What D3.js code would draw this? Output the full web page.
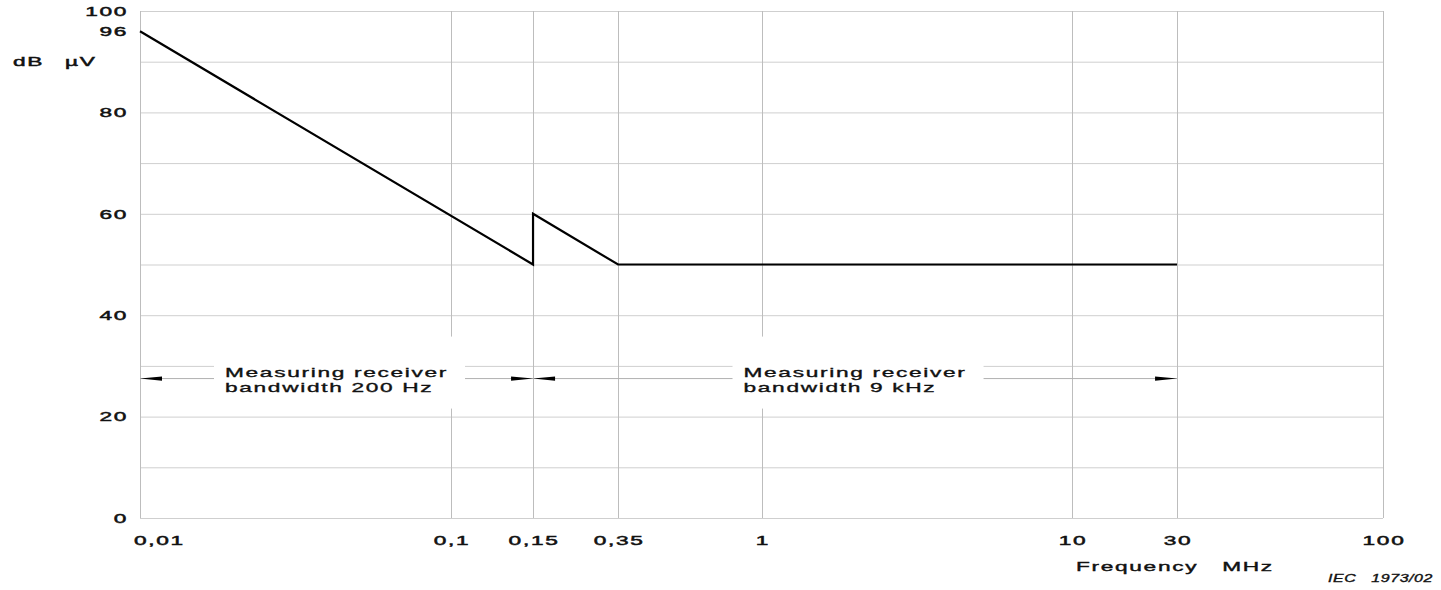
<!DOCTYPE html>
<html>
<head>
<meta charset="utf-8">
<script src="https://cdn.jsdelivr.net/npm/d3@7"></script>
<style>
  body { margin: 0; background: #fff; }
  svg { display: block; font-family: "Liberation Sans", Arial, Helvetica, sans-serif; }
  text { white-space: pre; }
</style>
</head>
<body>
<svg id="chart" width="1441" height="590"></svg>
<script>
// Frequency axis, MHz
const freqTicks = [0.01, 0.1, 0.15, 0.35, 1, 10, 30, 100];
const freqTickLabels = ["0,01", "0,1", "0,15", "0,35", "1", "10", "30", "100"];

// Level axis, dB µV
const levelTicks = [0, 20, 40, 60, 80, 96, 100];
const levelTickLabels = ["0", "20", "40", "60", "80", "96", "100"];
const levelGrid = [0, 10, 20, 30, 40, 50, 60, 70, 80, 90, 100];

// Limit line (frequency MHz, level dB µV)
const limitFreq = [0.01, 0.15, 0.15, 0.35, 30];
const limitLevel = [96, 50, 60, 50, 50];

// Measuring receiver bandwidth ranges
const bandFrom = [0.01, 0.15];
const bandTo = [0.15, 30];
const bandLine1 = ["Measuring receiver", "Measuring receiver"];
const bandLine2 = ["bandwidth 200 Hz", "bandwidth 9 kHz"];
const bandArrowLevel = 27.5;

// ---- layout ----
const plot = { left: 140, right: 1383, top: 11, bottom: 518 };
const W = plot.right - plot.left;
// Drafting positions of the frequency grid lines, as fractions of the plot width
const freqGridPos = [0, 0.2502, 0.3162, 0.3846, 0.5004, 0.7498, 0.8343, 1];

const svg = d3.select("#chart");

// Piecewise logarithmic frequency scale
const xLog = d3.scaleLinear()
  .domain(freqTicks.map(Math.log10))
  .range(freqGridPos.map(f => plot.left + f * W));
const x = f => xLog(Math.log10(f));

const y = d3.scaleLinear().domain([0, 100]).range([plot.bottom, plot.top]);

const TXT = { size: 13.5, sx: 1.68, ls: 1.0, fill: "#111", stroke: 0.5 };

// Text drawn with the wide lettering of the drawing
function label(parent, str, px, py, opts = {}) {
  const o = Object.assign({}, TXT, opts);
  const g = parent.append("g")
    .attr("transform", `translate(${px},${py}) scale(${o.sx},1)`);
  const t = g.append("text")
    .attr("text-anchor", o.anchor || "start")
    .attr("dy", o.dy || 0)
    .style("font-size", o.size + "px")
    .style("letter-spacing", o.ls + "px")
    .style("font-style", o.italic ? "italic" : "normal")
    .attr("fill", o.fill)
    .attr("stroke", o.fill)
    .attr("stroke-width", o.stroke)
    .text(str);
  return t;
}

// ---- grid ----
const grid = svg.append("g");
grid.selectAll("line.h").data(levelGrid).join("line")
  .attr("class", "h")
  .attr("x1", plot.left).attr("x2", plot.right)
  .attr("y1", d => y(d) + 0.5).attr("y2", d => y(d) + 0.5)
  .attr("stroke", "#cfcfcf").attr("stroke-width", 1);

grid.selectAll("line.v").data(freqTicks).join("line")
  .attr("class", "v")
  .attr("x1", d => Math.round(x(d)) + 0.5).attr("x2", d => Math.round(x(d)) + 0.5)
  .attr("y1", plot.top).attr("y2", plot.bottom)
  .attr("stroke", "#bdbdbd").attr("stroke-width", 1);

// ---- bandwidth arrows ----
const bands = bandFrom.map((f, i) => ({ from: f, to: bandTo[i], l1: bandLine1[i], l2: bandLine2[i] }));
const ya = y(bandArrowLevel);
const bandG = svg.append("g");
const head = 22, half = 2.2;

bands.forEach(b => {
  const x0 = x(b.from), x1 = x(b.to);
  bandG.append("line")
    .attr("x1", x0).attr("x2", x1).attr("y1", ya).attr("y2", ya)
    .attr("stroke", "#b0b0b0").attr("stroke-width", 1);
  bandG.append("path")
    .attr("d", `M${x0},${ya} L${x0 + head},${ya - half} L${x0 + head},${ya + half} Z`)
    .attr("fill", "#000");
  bandG.append("path")
    .attr("d", `M${x1},${ya} L${x1 - head},${ya - half} L${x1 - head},${ya + half} Z`)
    .attr("fill", "#000");
});

// Text boxes blank out the grid behind the bandwidth notes
bands.forEach(b => {
  const mid = (x(b.from) + x(b.to)) / 2;
  const box = bandG.append("rect").attr("fill", "#fff");
  const t1 = label(bandG, b.l1, 0, 0, { stroke: 0.35 });
  const w1 = t1.node().getComputedTextLength() * TXT.sx;
  const left = mid - w1 / 2;
  t1.node().parentNode.setAttribute("transform", `translate(${left},${ya - 1.8}) scale(${TXT.sx},1)`);
  label(bandG, b.l2, left, ya + 13.4, { stroke: 0.35 });
  box.attr("x", left - 11).attr("width", w1 + 28)
    .attr("y", ya - 42).attr("height", 72);
});

// ---- limit line ----
const pts = limitFreq.map((f, i) => [x(f), y(limitLevel[i])]);
svg.append("path")
  .attr("d", d3.line()(pts))
  .attr("fill", "none")
  .attr("stroke", "#000")
  .attr("stroke-width", 2.2)
  .attr("stroke-linejoin", "miter");

// ---- axis labels ----
const axG = svg.append("g");
levelTicks.forEach((v, i) => {
  label(axG, levelTickLabels[i], 128, y(v), { anchor: "end", dy: "0.36em" });
});
freqTicks.forEach((f, i) => {
  const first = i === 0;
  label(axG, freqTickLabels[i], first ? 134 : x(f) + 1, 540,
    { anchor: first ? "start" : "middle", dy: "0.36em" });
});

label(axG, "dB", 13, 61, { dy: "0.36em" });
label(axG, "µV", 65, 61, { dy: "0.36em" });
label(axG, "Frequency   MHz", 1076, 566, { dy: "0.36em", stroke: 0.4 });
label(axG, "IEC   1973/02", 1433, 578,
  { anchor: "end", dy: "0.36em", italic: true, size: 11, sx: 1.45, ls: 0.4, stroke: 0.35 });
</script>
</body>
</html>
